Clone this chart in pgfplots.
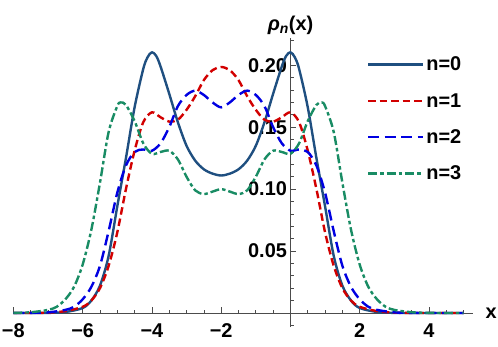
\documentclass[border=0pt]{standalone}
\usepackage{pgfplots}
\pgfplotsset{compat=1.18}
\usepackage{fontspec}
\setmainfont{Liberation Sans}
\definecolor{c0}{RGB}{31,79,128}
\definecolor{c1}{RGB}{210,0,0}
\definecolor{c2}{RGB}{0,0,225}
\definecolor{c3}{RGB}{25,140,100}
\newcommand{\lbl}{\bfseries\fontsize{20}{24}\selectfont}
\begin{document}
\begin{tikzpicture}
\begin{axis}[
  at={(13bp,20bp)}, anchor=south west,
  scale only axis, width=460bp, height=289bp,
  xmin=-8.01, xmax=5.27, ymin=-0.0113, ymax=0.222,
  enlargelimits=false,
  axis lines=middle,
  axis line style={-, black!70, line width=0.8bp},
  tick align=inside,
  major tick length=6bp, minor tick length=3.5bp,
  every tick/.style={black!70, line width=0.7bp},
  xtick={-8,-6,-4,-2,2,4},
  xticklabels={−8,−6,−4,−2,2,4},
  minor xtick={-7.5,-7,...,5},
  ytick={0.05,0.1,0.15,0.2},
  yticklabels={0.05,0.10,0.15,0.20},
  minor ytick={-0.01,0,0.01,0.02,0.03,0.04,0.06,0.07,0.08,0.09,0.11,0.12,0.13,0.14,0.16,0.17,0.18,0.19,0.21,0.22},
  tick label style={font=\lbl},
  xticklabel style={yshift=-7bp},
  xlabel={x}, ylabel={\textit{ρ}\textsubscript{\textit{n}}(x)},
  every axis x label/.style={at={(current axis.right of origin)}, anchor=west, font=\lbl, xshift=9bp},
  every axis y label/.style={at={(current axis.above origin)}, anchor=south, font=\lbl},
  legend style={at={(rel axis cs:0.769,0.942)}, anchor=north west, draw=none, fill=none,
    font=\lbl, row sep=17bp, inner sep=0pt,
    /tikz/every even column/.append style={column sep=4bp}},
  legend cell align=left,
  legend image code/.code={\draw[#1] (0bp,0bp) -- (55bp,0bp);},
  every axis plot/.append style={line width=2.4bp, smooth, line join=round},
]
\addplot[c0] coordinates {
(-8,0) (-7.5,0) (-7,0.0001) (-6.5,0.0008) (-6,0.004) (-5.75,0.010) (-5.5,0.022) (-5.25,0.046)
(-5,0.086) (-4.75,0.125) (-4.5,0.166) (-4.25,0.197) (-4.125,0.2065) (-4,0.2105) (-3.875,0.2075)
(-3.75,0.199) (-3.5,0.177) (-3.25,0.154) (-3,0.135) (-2.75,0.123) (-2.5,0.116) (-2.25,0.1125)
(-2,0.111)
(-1.75,0.1125) (-1.5,0.116) (-1.25,0.123) (-1,0.135) (-0.75,0.154) (-0.5,0.177) (-0.25,0.199)
(-0.125,0.2075) (0,0.2105) (0.125,0.2065) (0.25,0.197) (0.5,0.166) (0.75,0.125) (1,0.086)
(1.25,0.046) (1.5,0.022) (1.75,0.010) (2,0.004) (2.5,0.0008) (3,0.0001) (3.5,0) (4,0) (5,0)
};
\addlegendentry{n=0}
\addplot[c1, dash pattern=on 7.5bp off 4bp] coordinates {
(-8,0) (-7.5,0) (-7,0.0003) (-6.5,0.0015) (-6,0.005) (-5.75,0.010) (-5.5,0.020) (-5.25,0.038)
(-5,0.065) (-4.75,0.100) (-4.5,0.131) (-4.25,0.154) (-4,0.162) (-3.75,0.158) (-3.5,0.1545)
(-3.25,0.156) (-3,0.164) (-2.75,0.175) (-2.5,0.188) (-2.25,0.196) (-2,0.1986)
(-1.75,0.196) (-1.5,0.188) (-1.25,0.175) (-1,0.164) (-0.75,0.156) (-0.5,0.1545) (-0.25,0.158)
(0,0.162) (0.25,0.154) (0.5,0.131) (0.75,0.100) (1,0.065) (1.25,0.038) (1.5,0.020)
(1.75,0.010) (2,0.005) (2.5,0.0015) (3,0.0003) (3.5,0) (4,0) (5,0)
};
\addlegendentry{n=1}
\addplot[c2, dash pattern=on 11bp off 5.5bp] coordinates {
(-8,0) (-7.5,0.0001) (-7,0.0005) (-6.5,0.0025) (-6.25,0.005) (-6,0.011) (-5.75,0.021) (-5.5,0.038)
(-5.25,0.066) (-5,0.097) (-4.75,0.119) (-4.5,0.130) (-4.25,0.132) (-4,0.131) (-3.75,0.137)
(-3.5,0.150) (-3.25,0.167) (-3,0.176) (-2.75,0.1795) (-2.5,0.176) (-2.25,0.170) (-2,0.166)
(-1.75,0.170) (-1.5,0.176) (-1.25,0.1795) (-1,0.176) (-0.75,0.167) (-0.5,0.150) (-0.25,0.137)
(0,0.131) (0.25,0.132) (0.5,0.130) (0.75,0.119) (1,0.097) (1.25,0.066) (1.5,0.038)
(1.75,0.021) (2,0.011) (2.25,0.005) (2.5,0.0025) (3,0.0005) (3.5,0.0001) (4,0) (5,0)
};
\addlegendentry{n=2}
\addplot[c3, dash pattern=on 9bp off 3bp on 3.5bp off 3bp] coordinates {
(-8,0.0001) (-7.5,0.0006) (-7,0.0025) (-6.75,0.005) (-6.5,0.011) (-6.25,0.021) (-6,0.039)
(-5.75,0.067) (-5.5,0.105) (-5.25,0.146) (-5,0.167) (-4.9,0.170) (-4.75,0.168) (-4.5,0.155)
(-4.25,0.137) (-4,0.1285) (-3.75,0.130) (-3.5,0.131) (-3.25,0.124) (-3,0.110) (-2.75,0.099)
(-2.5,0.096) (-2.25,0.098) (-2,0.100)
(-1.75,0.098) (-1.5,0.096) (-1.25,0.099) (-1,0.110) (-0.75,0.124) (-0.5,0.131) (-0.25,0.130)
(0,0.1285) (0.25,0.137) (0.5,0.155) (0.75,0.168) (0.9,0.170) (1,0.167) (1.25,0.146)
(1.5,0.105) (1.75,0.067) (2,0.039) (2.25,0.021) (2.5,0.011) (2.75,0.005) (3,0.0025)
(3.5,0.0006) (4,0.0001) (4.5,0) (5,0)
};
\addlegendentry{n=3}
\end{axis}
\pgfresetboundingbox
\useasboundingbox (0,0) rectangle (498bp,347bp);
\end{tikzpicture}
\end{document}
